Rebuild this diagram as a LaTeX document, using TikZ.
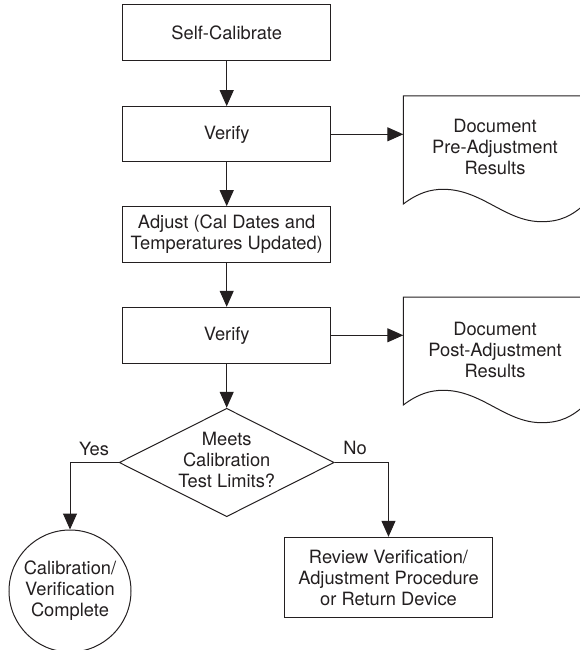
\documentclass[tikz,border=0pt]{standalone}
\usepackage{fontspec}
\setmainfont{TeX Gyre Heros}
\usetikzlibrary{arrows.meta,shapes.geometric}
\definecolor{ink}{HTML}{231F20}
\begin{document}
\begin{tikzpicture}[x=1pt,y=-1pt,
  every node/.style={font=\fontsize{18.3}{21}\selectfont, text=ink, align=center},
  box/.style={draw=ink, line width=1pt, rectangle, minimum width=208pt, inner sep=0pt},
  arr/.style={draw=ink, line width=1pt, -{Triangle[length=16pt,width=14pt]}},
  shapeline/.style={draw=ink, line width=1pt}]
\useasboundingbox (0,0) rectangle (579,650);
% main column
\node[box, minimum height=56pt] (sc) at (226.7,33) {Self-Calibrate};
\node[box, minimum height=55.3pt] (v1) at (226.7,134.3) {Verify};
\node[box, minimum height=55.6pt] (adj) at (226.7,234.5) {Adjust (Cal Dates and\\Temperatures Updated)};
\node[box, minimum height=56pt] (v2) at (226.7,335.3) {Verify};
\node[draw=ink, line width=1pt, diamond, minimum width=215pt, minimum height=108.4pt, inner sep=0pt] (dec) at (226.7,462.5) {};
\node (dect) at (226.7,460) {Meets\\Calibration\\Test Limits?};
\node[draw=ink, line width=1pt, circle, minimum size=122pt, inner sep=0pt] (circ) at (70,591) {Calibration/\\Verification\\Complete};
\node[box, minimum width=208.4pt, minimum height=80.4pt] (rev) at (388.5,577.5) {Review Verification/\\Adjustment Procedure\\or Return Device};
% documents
\draw[shapeline] (584,96) -- (403.3,96) -- (403.3,204)
  .. controls (418,193) and (430,189.3) .. (443.3,189.3)
  .. controls (482,189.3) and (505,221.7) .. (541.7,221.7)
  .. controls (560,221.7) and (572,216) .. (586,203);
\coordinate (d1in) at (403.3,134.3);
\node (d1t) at (495,147) {Document\\Pre-Adjustment\\Results};
\draw[shapeline] (584,297) -- (403.3,297) -- (403.3,405)
  .. controls (418,394) and (430,390.3) .. (443.3,390.3)
  .. controls (482,390.3) and (505,422.7) .. (541.7,422.7)
  .. controls (560,422.7) and (572,417) .. (586,404);
\coordinate (d2in) at (403.3,335.3);
\node (d2t) at (495,350) {Document\\Post-Adjustment\\Results};
% connectors
\draw[arr] (sc.south) -- (v1.north);
\draw[arr] (v1.south) -- (adj.north);
\draw[arr] (adj.south) -- (v2.north);
\draw[arr] (v2.south) -- (dec.north);
\draw[arr] (v1.east) -- (d1in);
\draw[arr] (v2.east) -- (d2in);
\draw[arr] (dec.west) -| (circ.north);
\draw[arr] (dec.east) -| (rev.north);
\node (yes) at (94,449) {Yes};
\node (no) at (355,448) {No};
\end{tikzpicture}
\end{document}
